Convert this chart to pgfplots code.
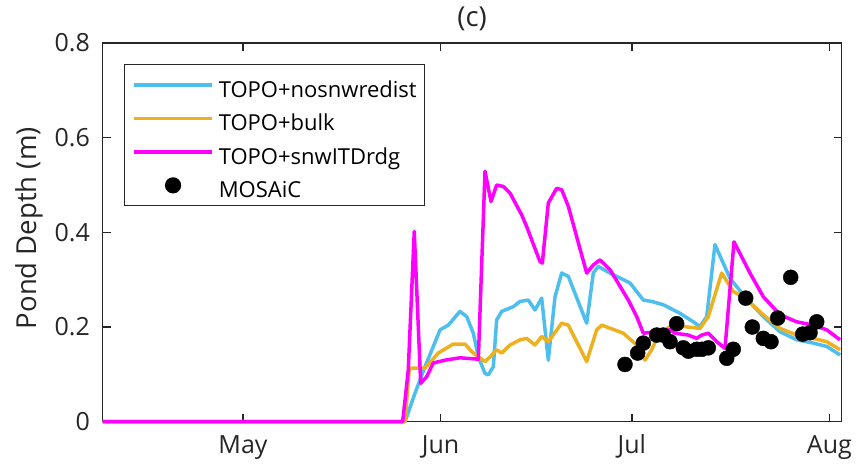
\documentclass[border=0pt]{standalone}
\usepackage{fontspec}
\setmainfont{Open Sans}
\usepackage{pgfplots}
\pgfplotsset{compat=1.18}
\definecolor{cblue}{rgb}{0.301,0.745,0.933}
\definecolor{corange}{rgb}{0.929,0.694,0.125}
\definecolor{cmag}{rgb}{1,0,1}
\definecolor{axgray}{rgb}{0.15,0.15,0.15}
\begin{document}
\begin{tikzpicture}[x=1pt,y=1pt]
\useasboundingbox (0,0) rectangle (856,468);
\begin{axis}[
  at={(102.5pt,46.3pt)}, anchor=south west,
  scale only axis, width=739.2pt, height=378.7pt,
  xmin=-22.04, xmax=93.93, ymin=0, ymax=0.8,
  xtick={0,31,61,92}, xticklabels={May,Jun,Jul,Aug},
  ytick={0,0.2,0.4,0.6,0.8}, yticklabels={0,0.2,0.4,0.6,0.8},
  /pgf/number format/assume math mode=true,
  tick align=inside, xtick pos=both, ytick pos=both,
  major tick length=8pt,
  axis line style={line width=1.4pt, draw=axgray},
  every tick/.style={line width=1.4pt, draw=axgray},
  tick label style={font=\fontsize{25}{30}\selectfont, text=axgray, inner sep=0pt},
  yticklabel style={xshift=-12.5pt},
  xticklabel style={text height=18pt, text depth=6pt, yshift=-14pt},
  title={(c)},
  title style={at={(axis description cs:0.5,1.0475)}, anchor=center, inner sep=0pt, font=\fontsize{27.5}{33}\selectfont, text=axgray},
  ylabel={Pond Depth (m)},
  ylabel style={at={(axis description cs:-0.0992,0.511)}, anchor=center, inner sep=0pt, font=\fontsize{27.5}{33}\selectfont, text=axgray},
  clip=false,
  legend cell align=left,
  legend style={at={(axis description cs:0.0291,0.9445)}, anchor=north west,
    draw=axgray, line width=1.2pt, fill=white, inner xsep=7.7pt, inner ysep=5pt,
    font=\fontsize{22}{26}\selectfont, /tikz/row sep=3pt, /tikz/column sep=5pt,
    nodes={inner sep=0pt, text height=27.85pt, text depth=2.65pt}},
  legend image code/.code={\draw[#1] (0pt,0pt) -- (78pt,0pt);},
]
\addplot[cblue, line width=3.5pt, line join=round] coordinates {
(-22.04,0) (25.42,0) (26.98,0.060) (28.55,0.116) (29.86,0.159) (30.91,0.194)
(32.21,0.204) (34.04,0.233) (35.10,0.222) (36.13,0.187) (36.92,0.137)
(37.97,0.102) (38.48,0.099) (39.27,0.116) (39.80,0.215) (40.59,0.233)
(42.41,0.243) (43.46,0.254) (44.76,0.257) (45.81,0.236) (46.86,0.261)
(47.90,0.130) (48.95,0.264) (50.00,0.314) (51.04,0.307) (53.92,0.208)
(54.96,0.314) (55.74,0.328) (57.58,0.314) (60.72,0.293) (62.80,0.257)
(64.12,0.254) (65.94,0.247) (68.56,0.229) (70.65,0.211) (71.70,0.201)
(72.75,0.222) (74.05,0.374) (76.40,0.303) (78.49,0.268) (81.63,0.222)
(84.25,0.190) (86.87,0.173) (89.47,0.166) (91.58,0.159) (93.67,0.141)
};
\addlegendentry{TOPO+nosnwredist}
\addplot[corange, line width=3.5pt, line join=round] coordinates {
(-22.04,0) (25.42,0) (26.09,0.113) (28.55,0.113) (30.64,0.145) (32.99,0.164)
(34.83,0.164) (35.88,0.148) (36.92,0.137) (37.97,0.127) (38.75,0.137)
(39.80,0.152) (40.59,0.145) (41.89,0.162) (43.46,0.173) (44.51,0.176)
(45.81,0.162) (46.86,0.180) (47.90,0.169) (50.00,0.208) (51.04,0.204)
(53.92,0.127) (55.49,0.194) (56.28,0.204) (59.66,0.187) (61.77,0.162)
(63.07,0.130) (64.12,0.152) (65.16,0.183) (66.99,0.201) (69.08,0.201)
(71.70,0.197) (73.00,0.222) (75.10,0.314) (76.92,0.275) (78.49,0.264)
(81.63,0.226) (84.25,0.197) (86.87,0.183) (89.47,0.176) (91.58,0.169)
(93.67,0.152)
};
\addlegendentry{TOPO+bulk}
\addplot[cmag, line width=3.5pt, line join=round] coordinates {
(-22.04,0) (25.05,0) (25.93,0.109) (26.87,0.402) (27.88,0.081) (28.82,0.095)
(29.86,0.124) (31.69,0.130) (34.04,0.135) (36.92,0.132) (37.97,0.529)
(38.91,0.465) (39.80,0.500) (40.84,0.497) (41.89,0.483) (43.72,0.437)
(44.51,0.412) (46.60,0.338) (46.96,0.335) (47.90,0.462) (49.22,0.493)
(50.00,0.490) (51.04,0.455) (53.92,0.314) (54.96,0.331) (56.01,0.342)
(57.58,0.321) (60.45,0.257) (61.77,0.222) (62.80,0.187) (64.90,0.190)
(66.99,0.194) (67.78,0.187) (69.86,0.183) (71.18,0.176) (71.96,0.183)
(73.00,0.187) (74.32,0.169) (75.62,0.155) (77.03,0.380) (79.54,0.314)
(81.63,0.264) (84.25,0.226) (86.87,0.211) (89.47,0.204) (91.58,0.194)
(93.67,0.173)
};
\addlegendentry{TOPO+snwITDrdg}
\addplot[only marks, mark=*, mark size=7.5pt, black,
  legend image code/.code={\path[draw=none,fill=none] (0pt,0pt) -- (78pt,0pt); \fill[black] (39pt,0pt) circle (7.5pt);}]
coordinates {
(59.93,0.121) (61.92,0.145) (62.80,0.166) (64.90,0.183) (65.94,0.183)
(66.99,0.169) (68.04,0.207) (69.08,0.156) (69.86,0.149) (71.18,0.153)
(72.00,0.153) (73.00,0.156) (75.89,0.134) (76.92,0.153) (78.87,0.261)
(79.91,0.200) (81.63,0.176) (82.84,0.169) (83.89,0.219) (85.93,0.305)
(87.81,0.185) (88.96,0.188) (90.01,0.211)
};
\addlegendentry{MOSAiC}
\end{axis}
\end{tikzpicture}
\end{document}
